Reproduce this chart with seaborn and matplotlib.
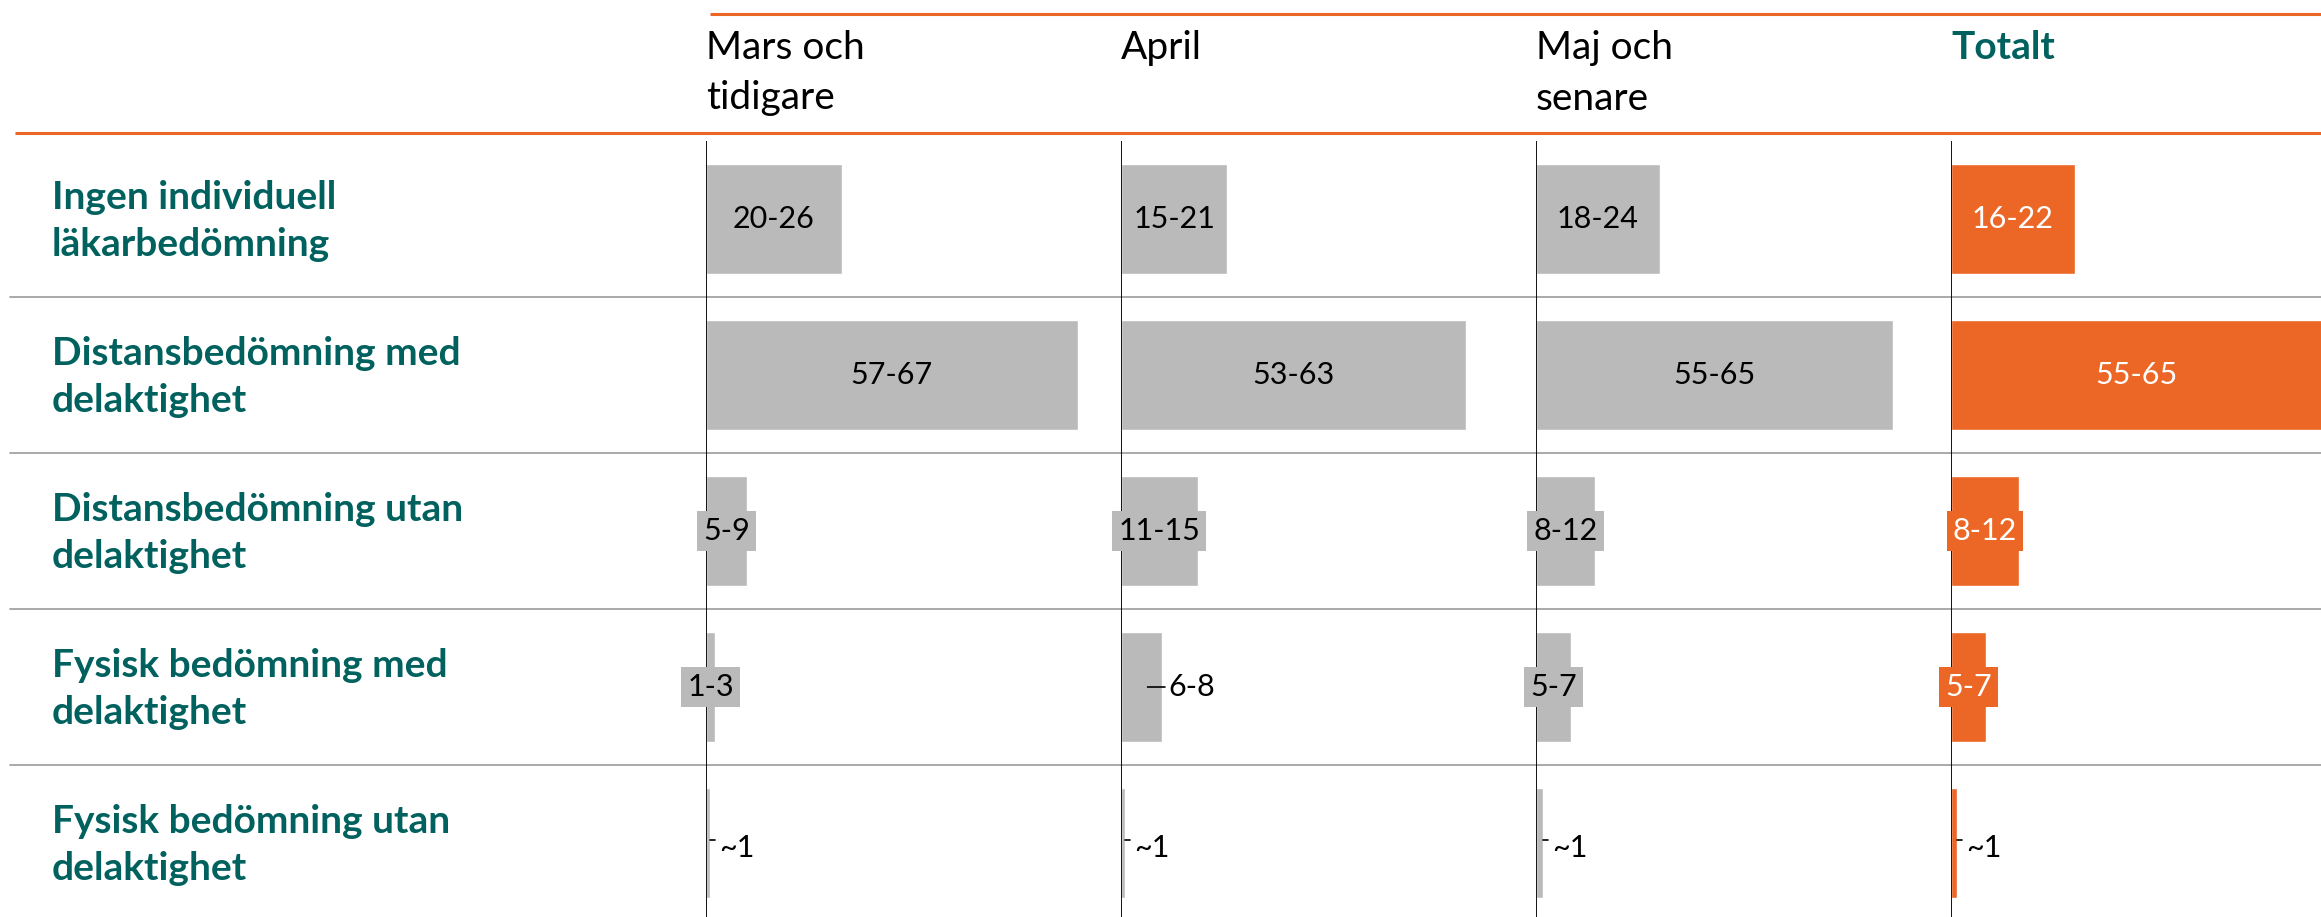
import numpy as np
import pandas as pd
import seaborn as sns
import matplotlib.pyplot as plt

# data
categories = ["Ingen individuell\nläkarbedömning",
              "Distansbedömning med\ndelaktighet",
              "Distansbedömning utan\ndelaktighet",
              "Fysisk bedömning med\ndelaktighet",
              "Fysisk bedömning utan\ndelaktighet"]
periods = ["Mars och\ntidigare", "April", "Maj och\nsenare", "Totalt"]

mars_values = [23, 63, 7, 1.5, 0.7]
mars_labels = ["20-26", "57-67", "5-9", "1-3", "~1"]
april_values = [18, 58.5, 13, 7, 0.7]
april_labels = ["15-21", "53-63", "11-15", "6-8", "~1"]
maj_values = [21, 60.5, 10, 6, 1.2]
maj_labels = ["18-24", "55-65", "8-12", "5-7", "~1"]
totalt_values = [21, 63, 11.5, 6, 1]
totalt_labels = ["16-22", "55-65", "8-12", "5-7", "~1"]

values = [mars_values, april_values, maj_values, totalt_values]
labels = [mars_labels, april_labels, maj_labels, totalt_labels]
# how each label is placed: in the bar, boxed over the bar, or outside with a leader
placement = [["in", "in", "box", "box", "out"],
             ["in", "in", "box", "out", "out"],
             ["in", "in", "box", "box", "out"],
             ["in", "in", "box", "box", "out"]]

GRAY = "#BABABA"
ORANGE = "#EC6726"
TEAL = "#00615E"
SEP = "#A3A3A3"

sns.set_style("white")
plt.rcParams["font.family"] = ["Lato", "DejaVu Sans"]

W, H = 2321, 917
fig = plt.figure(figsize=(W / 100, H / 100), dpi=100)

# background axes in pixel units for header, separators and row labels
bg = fig.add_axes([0, 0, 1, 1])
bg.set_xlim(0, W)
bg.set_ylim(H, 0)
bg.axis("off")

top = 141
pitch = 156
panel_left = 706
panel_w = 415
units = 70.3  # data units across one panel

bg.plot([710, W], [14, 14], color=ORANGE, lw=2.2, solid_capstyle="butt")
bg.plot([15, W], [133, 133], color=ORANGE, lw=2.2, solid_capstyle="butt")
for k in range(1, len(categories)):
    y = top + pitch * k
    bg.plot([10, W], [y, y], color=SEP, lw=1.3)

for k, cat in enumerate(categories):
    bg.text(52, top + pitch * k + pitch / 2 + 2, cat, color=TEAL, fontsize=28,
            fontweight="bold", va="center", ha="left", linespacing=1.38)

for i, p in enumerate(periods):
    x = panel_left + panel_w * i
    if p == "Totalt":
        bg.text(x, 30, p, color=TEAL, fontsize=28, fontweight="bold",
                va="top", ha="left")
    else:
        bg.text(x, 30, p, color="black", fontsize=28, va="top", ha="left",
                linespacing=1.5)

# one axes per period
for i, p in enumerate(periods):
    x0 = panel_left + panel_w * i
    width_px = min(panel_w, W - x0)
    ax = fig.add_axes([x0 / W, 0, width_px / W, (H - top) / H])
    df = pd.DataFrame({"kategori": categories, "andel": values[i]})
    color = ORANGE if p == "Totalt" else GRAY
    sns.barplot(data=df, y="kategori", x="andel", orient="h", color=color,
                width=0.7, errorbar=None, saturation=1, ax=ax)
    ax.set_xlim(0, units * width_px / panel_w)
    ax.set_ylim((H - top - pitch / 2) / pitch, -0.5)
    ax.axvline(0, color="black", lw=1.3)
    ax.axis("off")
    txt_in = "white" if p == "Totalt" else "black"
    for k, (v, lab, mode) in enumerate(zip(values[i], labels[i], placement[i])):
        if mode == "in":
            ax.text(v / 2, k, lab, ha="center", va="center", fontsize=22,
                    color=txt_in)
        elif mode == "box":
            ax.text(v / 2, k, lab, ha="center", va="center", fontsize=22,
                    color=txt_in,
                    bbox=dict(boxstyle="square,pad=0.2", fc=color, ec="none"))
        elif v > 3:
            ax.annotate(lab, xy=(v - 2.5, k), xytext=(v + 1.0, k),
                        ha="left", va="center", fontsize=22, color="black",
                        arrowprops=dict(arrowstyle="-", color="black", lw=1.2,
                                        shrinkA=0, shrinkB=0))
        else:
            ax.plot([v, v + 0.9], [k - 0.02, k - 0.02], color="black", lw=1.2)
            ax.text(v + 1.5, k + 0.03, lab, ha="left", va="center",
                    fontsize=22, color="black")

fig.savefig("out.png", dpi=100)
